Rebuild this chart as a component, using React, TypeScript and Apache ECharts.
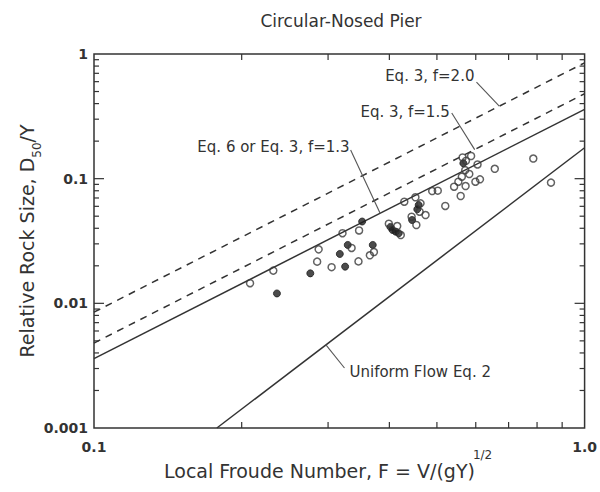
import React, { useEffect, useRef } from "react";
import * as echarts from "echarts";

const title = "Circular-Nosed Pier";
const xTickLabels: Record<string, string> = { "-1": "0.1", "0": "1.0" };
const yTickLabels: Record<string, string> = { "-3": "0.001", "-2": "0.01", "-1": "0.1", "0": "1" };
const xMinorTicks = [0.2, 0.3, 0.4, 0.5, 0.6, 0.7, 0.8, 0.9];
const yMinorTicks = [
  0.002, 0.003, 0.004, 0.005, 0.006, 0.007, 0.008, 0.009,
  0.02, 0.03, 0.04, 0.05, 0.06, 0.07, 0.08, 0.09,
  0.2, 0.3, 0.4, 0.5, 0.6, 0.7, 0.8, 0.9,
];
const yMajorTicks = [0.01, 0.1];

// design curves (F, D50/Y)
const eq3f20 = [[0.1, 0.0085], [1.0, 0.85]];
const eq3f15 = [[0.1, 0.0048], [1.0, 0.48]];
const eq6f13 = [[0.1, 0.0036], [1.0, 0.36]];
const uniformEq2 = [[0.178, 0.001], [1.0, 0.177]];

// open-symbol data points
const openPoints = [
  [0.208, 0.0145], [0.232, 0.0183], [0.285, 0.0216], [0.287, 0.0271], [0.321, 0.0365],
  [0.347, 0.0384], [0.335, 0.0278], [0.305, 0.0195], [0.346, 0.0217], [0.372, 0.0258],
  [0.365, 0.0243], [0.399, 0.0435], [0.415, 0.0417], [0.422, 0.0353], [0.429, 0.0653],
  [0.452, 0.0709], [0.463, 0.0634], [0.461, 0.0543], [0.474, 0.0511], [0.444, 0.0495],
  [0.454, 0.0425], [0.489, 0.0796], [0.502, 0.0801], [0.520, 0.0604], [0.542, 0.0862],
  [0.559, 0.0726], [0.553, 0.0945], [0.572, 0.0873], [0.562, 0.1037], [0.571, 0.117],
  [0.582, 0.109], [0.564, 0.148], [0.587, 0.152], [0.573, 0.139], [0.599, 0.0945],
  [0.612, 0.0988], [0.605, 0.130], [0.656, 0.120], [0.786, 0.145], [0.854, 0.093],
];
// filled-symbol data points
const filledPoints = [
  [0.236, 0.0120], [0.276, 0.0174], [0.317, 0.0249], [0.329, 0.0294], [0.325, 0.0197],
  [0.352, 0.0453], [0.370, 0.0294], [0.406, 0.0388], [0.412, 0.0376], [0.418, 0.0365],
  [0.402, 0.0410], [0.459, 0.0615], [0.456, 0.0568], [0.445, 0.0466], [0.566, 0.133],
];

// annotation leaders: [label anchor point, point on curve]
const leaderF20 = [[0.602, 0.596], [0.670, 0.382]];
const leaderF15 = [[0.536, 0.336], [0.597, 0.171]];
const leaderF13 = [[0.3335, 0.170], [0.383, 0.0528]];
const leaderUni = [[0.297, 0.00464], [0.324, 0.00303]];

const INK = "#333";
const FONT = "DejaVu Sans";

function textWidth(text: string, font: string): number {
  const c = document.createElement("canvas").getContext("2d");
  if (!c) return text.length * 10;
  c.font = font;
  return c.measureText(text).width;
}

export default function App() {
  const ref = useRef<HTMLDivElement>(null);
  useEffect(() => {
    if (!ref.current) return;
    const chart = echarts.init(ref.current, null, { renderer: "svg" });
    const xMin = 0.1, xMax = 1, yMin = 0.001, yMax = 1;
    const tickStyle = { stroke: INK, lineWidth: 1.2 };
    const lineSeries = (data: number[][], dashed: boolean) => ({
      type: "line",
      data,
      showSymbol: false,
      symbol: "none",
      silent: true,
      lineStyle: { color: INK, width: 1.5, type: dashed ? [7, 6] : "solid" },
      z: 3,
    });
    const leader = (data: number[][]) => ({
      type: "line",
      data,
      symbol: "none",
      silent: true,
      lineStyle: { color: "#555", width: 1.1 },
      z: 3,
    });
    const option: any = {
      animation: false,
      backgroundColor: "#fff",
      grid: { left: 94, right: 11, top: 54, bottom: 64, show: true, borderColor: INK, borderWidth: 1.5, backgroundColor: "transparent" },
      xAxis: {
        type: "log",
        logBase: 10,
        min: xMin,
        max: xMax,
        axisLine: { show: false },
        axisTick: { show: false },
        splitLine: { show: false },
        axisLabel: {
          color: INK,
          fontFamily: FONT,
          fontSize: 14,
          fontWeight: "bold",
          margin: 12,
          formatter: (v: number) => xTickLabels[String(Math.round(Math.log10(v)))] ?? "",
        },
      },
      yAxis: {
        type: "log",
        logBase: 10,
        min: yMin,
        max: yMax,
        axisLine: { show: false },
        axisTick: { show: false },
        splitLine: { show: false },
        axisLabel: {
          color: INK,
          fontFamily: FONT,
          fontSize: 14,
          fontWeight: "bold",
          margin: 6,
          formatter: (v: number) => yTickLabels[String(Math.round(Math.log10(v)))] ?? "",
        },
      },
      series: [
        {
          type: "custom",
          silent: true,
          clip: false,
          data: xMinorTicks.map((v) => [v, yMin]),
          renderItem: (_p: any, api: any) => {
            const x = api.value(0);
            const b = api.coord([x, yMin]);
            const t = api.coord([x, yMax]);
            return {
              type: "group",
              children: [
                { type: "line", shape: { x1: b[0], y1: b[1], x2: b[0], y2: b[1] - 6 }, style: tickStyle },
                { type: "line", shape: { x1: t[0], y1: t[1], x2: t[0], y2: t[1] + 6 }, style: tickStyle },
              ],
            };
          },
        },
        {
          type: "custom",
          silent: true,
          clip: false,
          data: [...yMinorTicks.map((v) => [xMin, v, 5]), ...yMajorTicks.map((v) => [xMin, v, 10])],
          renderItem: (_p: any, api: any) => {
            const y = api.value(1);
            const len = api.value(2);
            const l = api.coord([xMin, y]);
            const r = api.coord([xMax, y]);
            return {
              type: "group",
              children: [
                { type: "line", shape: { x1: l[0], y1: l[1], x2: l[0] + len, y2: l[1] }, style: tickStyle },
                { type: "line", shape: { x1: r[0], y1: r[1], x2: r[0] - len, y2: r[1] }, style: tickStyle },
              ],
            };
          },
        },
        lineSeries(eq3f20, true),
        lineSeries(eq3f15, true),
        lineSeries(eq6f13, false),
        lineSeries(uniformEq2, false),
        leader(leaderF20),
        leader(leaderF15),
        leader(leaderF13),
        leader(leaderUni),
        {
          type: "scatter",
          data: filledPoints,
          symbol: "circle",
          symbolSize: 7,
          itemStyle: { color: "#1e1e1e", borderColor: "#1e1e1e", borderWidth: 1 },
          z: 4,
        },
        {
          type: "scatter",
          data: openPoints,
          symbol: "circle",
          symbolSize: 7,
          itemStyle: { color: "rgba(255,255,255,0)", borderColor: "#3a3a3a", borderWidth: 1.5 },
          z: 5,
        },
      ],
    };
    chart.setOption(option);

    const px = (p: number[]) => chart.convertToPixel({ gridIndex: 0 }, p) as number[];
    const a20 = px(leaderF20[0]);
    const a15 = px(leaderF15[0]);
    const a13 = px(leaderF13[0]);
    const aU = px(leaderUni[1]);
    const annStyle = { fill: INK, font: `15px "${FONT}"` };
    const xName = "Local Froude Number, F = V/(gY)";
    const xNameFont = `19px "${FONT}"`;
    const xNameLeft = 164;
    const xNameW = textWidth(xName, xNameFont);
    chart.setOption({
      graphic: [
        {
          type: "text",
          x: 341,
          y: 21,
          style: { text: title, fill: INK, font: `17px "${FONT}"`, align: "center", verticalAlign: "middle" },
        },
        {
          type: "text",
          x: xNameLeft,
          y: 471,
          style: { text: xName, fill: INK, font: xNameFont, align: "left", verticalAlign: "middle" },
        },
        {
          type: "text",
          x: xNameLeft + xNameW - 2,
          y: 455,
          style: { text: "1/2", fill: INK, font: `12px "${FONT}"`, align: "left", verticalAlign: "middle" },
        },
        {
          type: "text",
          x: 30,
          y: 241,
          rotation: Math.PI / 2,
          style: {
            text: "{a|Relative Rock Size, D}{s|50}{a|/Y}",
            align: "center",
            verticalAlign: "middle",
            rich: {
              a: { fontFamily: FONT, fontSize: 19, fill: INK, color: INK, verticalAlign: "top", lineHeight: 26 },
              s: { fontFamily: FONT, fontSize: 12, fill: INK, color: INK, verticalAlign: "bottom", lineHeight: 26 },
            },
          },
        },
        { type: "text", x: a20[0] - 2, y: a20[1] - 6, style: { ...annStyle, text: "Eq. 3, f=2.0", align: "right", verticalAlign: "middle" } },
        { type: "text", x: a15[0] - 2, y: a15[1] - 1, style: { ...annStyle, text: "Eq. 3, f=1.5", align: "right", verticalAlign: "middle" } },
        { type: "text", x: a13[0] - 1, y: a13[1] - 3, style: { ...annStyle, text: "Eq. 6 or Eq. 3, f=1.3", align: "right", verticalAlign: "middle" } },
        { type: "text", x: aU[0] + 5, y: aU[1] + 4, style: { ...annStyle, text: "Uniform Flow Eq. 2", align: "left", verticalAlign: "middle" } },
      ],
    });
    return () => chart.dispose();
  }, []);
  return <div ref={ref} style={{ position: "absolute", left: 0, top: 0, width: 600, height: 492 }} />;
}
